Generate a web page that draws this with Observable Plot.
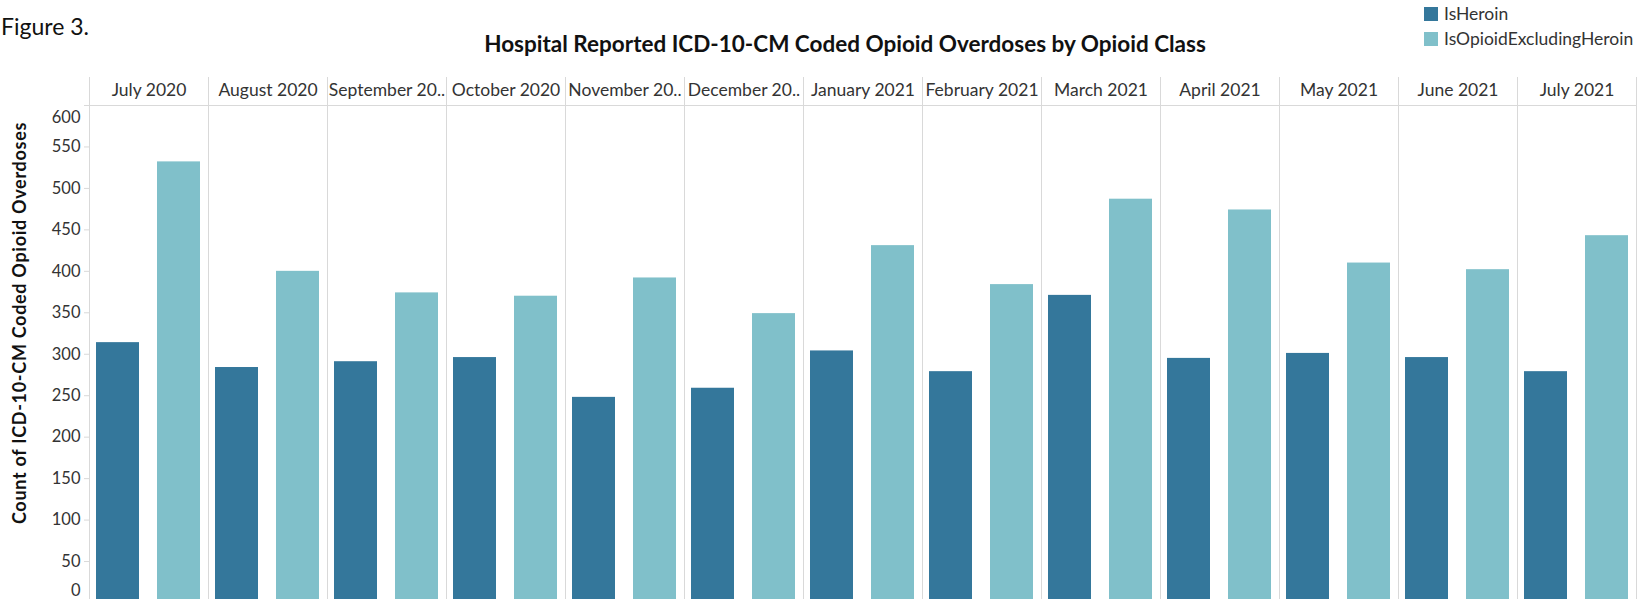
<!DOCTYPE html>
<html><head><meta charset="utf-8">
<script src="https://cdn.jsdelivr.net/npm/d3@7"></script>
<script src="https://cdn.jsdelivr.net/npm/@observablehq/plot@0.6"></script>
<style>
html,body{margin:0;padding:0;background:#fff;overflow:hidden;}
#wrap{position:relative;width:1647px;height:599px;overflow:hidden;font-family:Lato,sans-serif;color:#333;}
#fig{position:absolute;left:1px;top:15px;font-size:23px;line-height:23px;color:#111;white-space:nowrap;}
#title{position:absolute;left:845px;top:33px;transform:translateX(-50%);font-size:22.5px;line-height:22px;font-weight:bold;color:#111;white-space:nowrap;}
#legend{position:absolute;left:1424px;top:1px;font-size:17.5px;line-height:25px;color:#333;}
#legend .row{display:flex;align-items:center;height:25px;}
#legend .sw{width:14px;height:14px;margin-right:6px;}
#ylabel{position:absolute;left:19px;top:323px;transform:translate(-50%,-50%) rotate(-90deg);font-size:18px;letter-spacing:0.7px;font-weight:bold;color:#111;white-space:nowrap;}
#chart{position:absolute;left:0;top:0;}
</style></head><body>
<div id="wrap">
<div id="fig">Figure 3.</div>
<div id="title">Hospital Reported ICD-10-CM Coded Opioid Overdoses by Opioid Class</div>
<div id="legend"></div>
<div id="ylabel">Count of ICD-10-CM Coded Opioid Overdoses</div>
<div id="chart"></div>
</div>
<script>
const months = ["July 2020","August 2020","September 2020","October 2020","November 2020","December 2020","January 2021","February 2021","March 2021","April 2021","May 2021","June 2021","July 2021"];
const monthLabels = ["July 2020","August 2020","September 20..","October 2020","November 20..","December 20..","January 2021","February 2021","March 2021","April 2021","May 2021","June 2021","July 2021"];
const series = ["IsHeroin","IsOpioidExcludingHeroin"];
const heroin = [314,284,291,296,248,259,304,279,371,295,301,296,279];
const opioidExclHeroin = [532,400,374,370,392,349,431,384,487,474,410,402,443];
const colors = ["#34779b","#80c0ca"];
const yTicks = [0,50,100,150,200,250,300,350,400,450,500,550,600];

const data = months.flatMap((m,i)=>[
  {month:m, series:series[0], value:heroin[i]},
  {month:m, series:series[1], value:opioidExclHeroin[i]}
]);

const legend = document.getElementById("legend");
series.forEach((s,i)=>{
  const r = document.createElement("div"); r.className="row";
  const sw = document.createElement("div"); sw.className="sw"; sw.style.background=colors[i];
  const t = document.createElement("span"); t.textContent=s;
  r.appendChild(sw); r.appendChild(t); legend.appendChild(r);
});

const grid = "#d9d9d9";
const plot = Plot.plot({
  width:1647, height:640,
  marginTop:105, marginLeft:83, marginRight:6, marginBottom:37.5,
  style:{fontFamily:"Lato, sans-serif", fontSize:"16.5px", color:"#333", background:"transparent"},
  fx:{domain:months, padding:0, label:null},
  x:{domain:series, paddingInner:0.29, paddingOuter:0.12, axis:null},
  y:{domain:[0,600], label:null},
  color:{domain:series, range:colors},
  marks:[
    Plot.frame({anchor:"left", stroke:grid, insetTop:-28}),
    Plot.frame({anchor:"right", stroke:grid, insetTop:-28}),
    Plot.frame({anchor:"top", stroke:grid}),
    Plot.barY(data, {fx:"month", x:"series", y:"value", fill:"series"}),
    Plot.axisFx({anchor:"top", tickSize:0, tickPadding:9.5, label:null, fontSize:17.5,
      tickFormat: m => monthLabels[months.indexOf(m)]}),
    Plot.axisY(yTicks.filter(t=>t>0 && t<600), {tickSize:5, tickPadding:4, label:null, stroke:grid, fill:"#333"}),
    Plot.axisY(yTicks.filter(t=>t===0 || t===600), {tickSize:5, label:null, stroke:grid, tickFormat:()=>""}),
    Plot.axisY(yTicks.filter(t=>t===600), {tickSize:0, tickPadding:9, dy:12, label:null, fill:"#333"}),
    Plot.axisY(yTicks.filter(t=>t===0), {tickSize:0, tickPadding:9, dy:-12, label:null, fill:"#333"})
  ]
});
document.getElementById("chart").appendChild(plot);
</script>
</body></html>
